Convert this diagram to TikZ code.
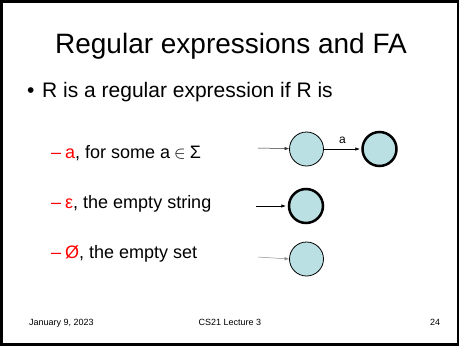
\documentclass[tikz,border=0pt]{standalone}
\usepackage{fontspec}
\setmainfont{Liberation Sans}
\usetikzlibrary{arrows.meta,positioning}
\definecolor{statefill}{RGB}{186,224,228}
\newcommand{\fs}[1]{\fontsize{#1}{#1}\selectfont}
\tikzset{txt/.style={anchor=base west,inner sep=0pt},
  state/.style={circle,draw,minimum size=34pt,inner sep=0pt,fill=statefill,line width=0.8pt},
  accept/.style={state,line width=2.5pt},
  arr/.style={-{Latex[length=4.5pt,width=3.5pt]},line width=0.5pt},
  item/.style={txt,font=\fs{18}}}
\begin{document}
\begin{tikzpicture}[x=1pt,y=-1pt]
\useasboundingbox (0,0) rectangle (459,346);
\draw[line width=3pt] (1.5,1.5) rectangle (458.5,344.5);
\node[anchor=base,inner sep=0pt,font=\fs{28}] (title) at (231,53){Regular expressions and FA};
\node[txt,font=\fs{21}] (bul) at (27,97){\makebox[15pt][l]{•}R is a regular expression if R is};
\node[item] (ia) at (51,158){\makebox[14pt][l]{\color{red}–}\textcolor{red}{a}, for some a\hspace{4pt}$\in$\hspace{4pt}Σ};
\node[item] (ie) at (51,208){\makebox[14pt][l]{\color{red}–}\textcolor{red}{ε}, the empty string};
\node[item] (io) at (51,258){\makebox[14pt][l]{\color{red}–}\textcolor{red}{Ø}, the empty set};
% automata
\node[state] (q0) at (306.5,149){}; \node[accept] (q1) at (379.5,149){};
\node[accept] (e0) at (306,206){};
\node[state] (n0) at (306.5,259){};
\coordinate (sa) at (258,148); \coordinate (se) at (256,206); \coordinate (sn) at (258,257);
\draw[arr,black!80] (sa)--(q0); \draw[arr,shorten >=1.5pt] (q0)--node[above=2pt,font=\fs{12}]{a}(q1);
\draw[arr,shorten >=2pt] (se)--(e0);
\draw[arr,black!45] (sn)--(n0.west);
% footer
\node[txt,font=\fs{9}] (date) at (29,325){January 9, 2023};
\node[anchor=base,inner sep=0pt,font=\fs{9}] (lect) at (230,325){CS21 Lecture 3};
\node[txt,font=\fs{9}] (num) at (430,325){24};
\end{tikzpicture}
\end{document}
